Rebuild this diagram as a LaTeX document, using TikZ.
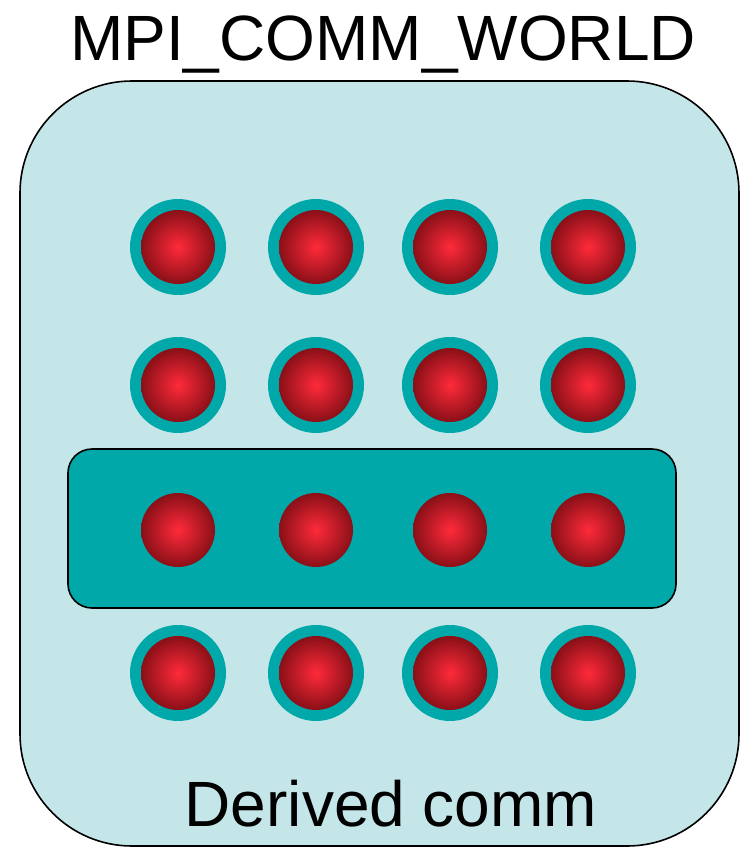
\documentclass[tikz,border=0pt]{standalone}
\usepackage{fontspec}
\setmainfont{Liberation Sans}
\definecolor{lightbg}{HTML}{C5E6E8}
\definecolor{tealc}{HTML}{00A8AA}
\definecolor{redin}{HTML}{FF2A3A}
\definecolor{redout}{HTML}{8A1018}
\tikzset{
  world/.style={draw=black, line width=1.6pt, fill=lightbg, rounded corners=112pt},
  derived/.style={draw=black, line width=1.6pt, fill=tealc, rounded corners=24pt},
  ring/.style={circle, fill=tealc, minimum size=96pt, inner sep=0pt},
  proc/.style={circle, inner color=redin, outer color=redout, minimum size=74pt, inner sep=0pt},
  lbl/.style={font=\fontsize{64}{70}\selectfont, inner sep=0pt, text=black}
}
\begin{document}
\begin{tikzpicture}[x=1pt,y=-1pt]
\useasboundingbox (0,0) rectangle (740,847);
\path[world] (20,81) rectangle (739,846);
\path[derived] (68,449) rectangle (676,608);
\foreach \r/\y in {1/247,2/385,4/673}{
  \foreach \c/\x in {1/178,2/316,3/450,4/588}{
    \node[ring] (ring\r\c) at (\x,\y) {};
    \node[proc] (p\r\c) at (\x,\y) {};
  }
}
\foreach \c/\x in {1/178,2/316,3/450,4/588}{
  \node[proc] (p3\c) at (\x,530) {};
}
\node[lbl, anchor=base] (title) at (383,60) {MPI\_COMM\_WORLD};
\node[lbl, anchor=base] (sub) at (391,826) {Derived comm};
\end{tikzpicture}
\end{document}
